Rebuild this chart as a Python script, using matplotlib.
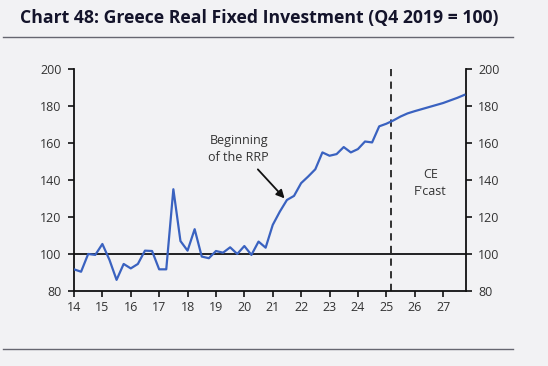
import matplotlib
matplotlib.use("Agg")
import matplotlib.pyplot as plt

# Quarterly index, Q4 2019 = 100 (x = year since 2000 + quarter offset)
actual_x = [14.0 + 0.25 * i for i in range(46)]
actual_y = [
    91.7, 90.4, 100.0, 99.5, 105.4, 96.8, 86.0, 94.6,
    92.2, 94.6, 101.8, 101.6, 91.7, 91.7, 135.0, 107.0,
    101.8, 113.4, 98.6, 97.7, 101.6, 100.7, 103.6, 100.0,
    104.3, 99.5, 106.7, 103.4, 115.7, 122.9, 129.2, 131.4,
    138.3, 141.9, 145.8, 154.9, 153.1, 154.0, 157.8, 154.9,
    156.7, 160.8, 160.3, 169.0, 170.4, 172.2,
]
fcast_x = [25.25, 25.5, 25.75, 26.0, 26.25, 26.5, 26.75, 27.0, 27.25, 27.5, 27.75]
fcast_y = [172.2, 174.3, 176.0, 177.2, 178.3, 179.4, 180.5, 181.6, 183.0, 184.4, 186.0]
forecast_start = 25.17

year_ticks = list(range(14, 28))
y_ticks = [80, 100, 120, 140, 160, 180, 200]

BG = "#f2f2f4"
LINE = "#3a62c0"
TXT = "#333333"

plt.rcParams["font.family"] = ["Open Sans", "DejaVu Sans"]

fig = plt.figure(figsize=(5.48, 3.66), dpi=100, facecolor=BG)
ax = fig.add_axes([0.135, 0.205, 0.715, 0.6065])
ax.set_facecolor(BG)

ax.plot(actual_x + fcast_x[1:], actual_y + fcast_y[1:], color=LINE, lw=1.6, zorder=3)
ax.axhline(100, color="#111111", lw=1.3, zorder=2)
ax.axvline(forecast_start, color="#222222", lw=1.3, ls=(0, (4, 3)), zorder=2)

ax.set_xlim(14, 27.8)
ax.set_ylim(80, 200)
ax.set_xticks(year_ticks)
ax.set_xticklabels([str(t) for t in year_ticks])
ax.set_yticks(y_ticks)

ax.spines["top"].set_visible(False)
for s in ("left", "right", "bottom"):
    ax.spines[s].set_color("#111111")
    ax.spines[s].set_linewidth(1.3)
ax.tick_params(axis="both", direction="out", length=4, width=1.2, color="#111111",
               labelsize=9, labelcolor=TXT, pad=3)
ax.tick_params(axis="y", which="both", left=True, right=True,
               labelleft=True, labelright=True, pad=5)

ax.annotate("Beginning\nof the RRP", xy=(21.45, 129.5), xytext=(19.8, 157),
            ha="center", va="center", fontsize=9, color=TXT, linespacing=1.4,
            arrowprops=dict(arrowstyle="-|>", color="#111111", lw=1.3,
                            mutation_scale=12, shrinkA=3, shrinkB=1))
ax.text(26.55, 138.6, "CE\nF'cast", ha="center", va="center",
        fontsize=9, color=TXT, linespacing=1.4)

fig.text(0.036, 0.951, "Chart 48: Greece Real Fixed Investment (Q4 2019 = 100)",
         ha="left", va="center", fontsize=12.7, fontweight="bold", color="#14142b")
fig.add_artist(plt.Line2D([0.006, 0.936], [0.899, 0.899], color="#666670", lw=1.0))
fig.add_artist(plt.Line2D([0.006, 0.936], [0.046, 0.046], color="#666670", lw=1.0))

fig.savefig("out.png", dpi=100, facecolor=BG)
